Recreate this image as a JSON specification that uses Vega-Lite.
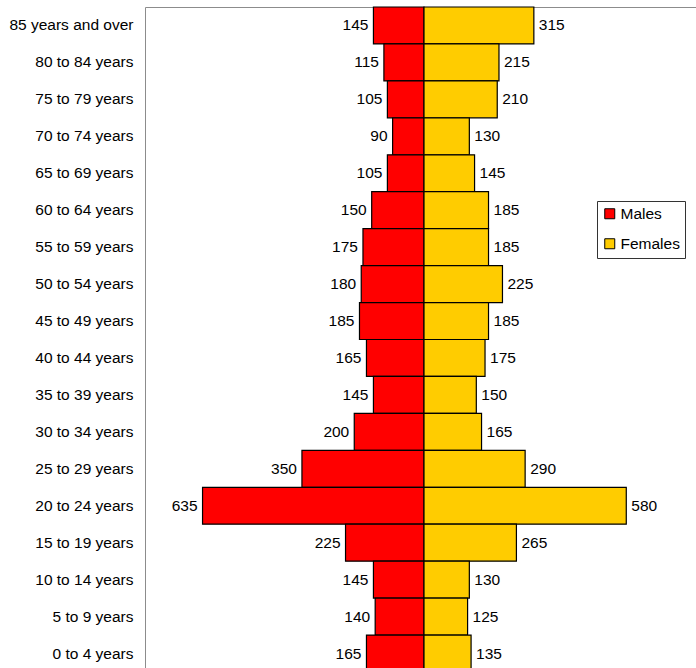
{
  "$schema": "https://vega.github.io/schema/vega-lite/v6.json",
  "description": "Population pyramid by age group and sex",
  "padding": {"left": 8, "top": 5, "right": 0, "bottom": 0},
  "background": "white",
  "bounds": "flush",
  "data": {
    "values": [
      {"age": "85 years and over", "sex": "Males", "value": 145},
      {"age": "85 years and over", "sex": "Females", "value": 315},
      {"age": "80 to 84 years", "sex": "Males", "value": 115},
      {"age": "80 to 84 years", "sex": "Females", "value": 215},
      {"age": "75 to 79 years", "sex": "Males", "value": 105},
      {"age": "75 to 79 years", "sex": "Females", "value": 210},
      {"age": "70 to 74 years", "sex": "Males", "value": 90},
      {"age": "70 to 74 years", "sex": "Females", "value": 130},
      {"age": "65 to 69 years", "sex": "Males", "value": 105},
      {"age": "65 to 69 years", "sex": "Females", "value": 145},
      {"age": "60 to 64 years", "sex": "Males", "value": 150},
      {"age": "60 to 64 years", "sex": "Females", "value": 185},
      {"age": "55 to 59 years", "sex": "Males", "value": 175},
      {"age": "55 to 59 years", "sex": "Females", "value": 185},
      {"age": "50 to 54 years", "sex": "Males", "value": 180},
      {"age": "50 to 54 years", "sex": "Females", "value": 225},
      {"age": "45 to 49 years", "sex": "Males", "value": 185},
      {"age": "45 to 49 years", "sex": "Females", "value": 185},
      {"age": "40 to 44 years", "sex": "Males", "value": 165},
      {"age": "40 to 44 years", "sex": "Females", "value": 175},
      {"age": "35 to 39 years", "sex": "Males", "value": 145},
      {"age": "35 to 39 years", "sex": "Females", "value": 150},
      {"age": "30 to 34 years", "sex": "Males", "value": 200},
      {"age": "30 to 34 years", "sex": "Females", "value": 165},
      {"age": "25 to 29 years", "sex": "Males", "value": 350},
      {"age": "25 to 29 years", "sex": "Females", "value": 290},
      {"age": "20 to 24 years", "sex": "Males", "value": 635},
      {"age": "20 to 24 years", "sex": "Females", "value": 580},
      {"age": "15 to 19 years", "sex": "Males", "value": 225},
      {"age": "15 to 19 years", "sex": "Females", "value": 265},
      {"age": "10 to 14 years", "sex": "Males", "value": 145},
      {"age": "10 to 14 years", "sex": "Females", "value": 130},
      {"age": "5 to 9 years", "sex": "Males", "value": 140},
      {"age": "5 to 9 years", "sex": "Females", "value": 125},
      {"age": "0 to 4 years", "sex": "Males", "value": 165},
      {"age": "0 to 4 years", "sex": "Females", "value": 135}
    ]
  },
  "spacing": 0,
  "hconcat": [
    {
      "width": 279,
      "height": 665,
      "transform": [{"filter": "datum.sex == 'Males'"}],
      "encoding": {
        "y": {
          "field": "age",
          "type": "nominal",
          "sort": null,
          "title": null,
          "scale": {"paddingInner": 0, "paddingOuter": 0},
          "axis": {"ticks": false, "domain": false, "labelPadding": 12, "labelFontSize": 15.5, "labelColor": "black"}
        },
        "x": {
          "field": "value",
          "type": "quantitative",
          "scale": {"domain": [0, 800], "reverse": true, "nice": false},
          "axis": null
        }
      },
      "layer": [
        {
          "mark": {"type": "bar", "stroke": "black", "strokeWidth": 1.2},
          "encoding": {
            "color": {
              "field": "sex",
              "type": "nominal",
              "scale": {"domain": ["Males", "Females"], "range": ["#ff0000", "#ffcc00"]},
              "legend": {
                "title": null,
                "orient": "none",
                "legendX": 452,
                "legendY": 194
              }
            }
          }
        },
        {
          "mark": {"type": "text", "align": "right", "baseline": "middle", "dx": -5, "fontSize": 15.5},
          "encoding": {"text": {"field": "value", "type": "quantitative"}}
        }
      ]
    },
    {
      "width": 279,
      "height": 665,
      "transform": [{"filter": "datum.sex == 'Females'"}],
      "encoding": {
        "y": {
          "field": "age",
          "type": "nominal",
          "sort": null,
          "scale": {"paddingInner": 0, "paddingOuter": 0},
          "axis": null
        },
        "x": {
          "field": "value",
          "type": "quantitative",
          "scale": {"domain": [0, 800], "nice": false},
          "axis": null
        }
      },
      "layer": [
        {
          "mark": {"type": "bar", "stroke": "black", "strokeWidth": 1.2},
          "encoding": {
            "color": {
              "field": "sex",
              "type": "nominal",
              "scale": {"domain": ["Males", "Females"], "range": ["#ff0000", "#ffcc00"]}
            }
          }
        },
        {
          "mark": {"type": "text", "align": "left", "baseline": "middle", "dx": 5, "fontSize": 15.5},
          "encoding": {"text": {"field": "value", "type": "quantitative"}}
        }
      ]
    }
  ],
  "resolve": {"scale": {"color": "shared", "y": "shared"}, "legend": {"color": "shared"}},
  "config": {
    "font": "Liberation Sans",
    "view": {"stroke": "#8c8c8c", "strokeWidth": 1},
    "axis": {"labelFont": "Liberation Sans"},
    "text": {"font": "Liberation Sans", "color": "black"},
    "legend": {
      "labelFont": "Liberation Sans",
      "labelFontSize": 15.5,
      "labelColor": "black",
      "symbolType": "square",
      "symbolSize": 100,
      "symbolStrokeColor": "black",
      "symbolStrokeWidth": 1,
      "symbolOpacity": 1,
      "fillColor": "white",
      "strokeColor": "#333333",
      "padding": 5,
      "rowPadding": 13,
      "labelOffset": 3
    }
  }
}
